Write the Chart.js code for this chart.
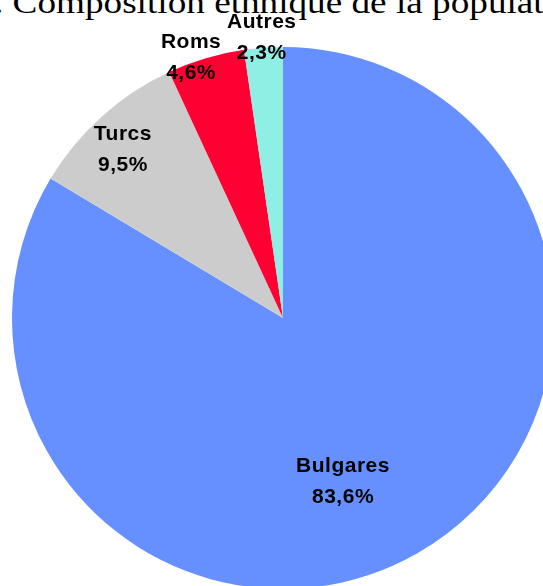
<!DOCTYPE html>
<html>
<head>
<meta charset="utf-8">
<script src="https://cdn.jsdelivr.net/npm/chart.js@4"></script>
<style>
  html, body { margin: 0; padding: 0; background: #fff; overflow: hidden; width: 543px; height: 586px; }
  #title {
    position: absolute; left: -6px; top: -13px; white-space: nowrap;
    font-family: "Liberation Serif", serif; font-size: 31px; line-height: 1; color: #000;
    transform: scaleX(1.2); transform-origin: 0 0;
  }
  #wrap { position: absolute; left: 12px; top: 0; width: 542px; height: 589px; }
</style>
</head>
<body>
<div id="title">. Composition ethnique de la population</div>
<div id="wrap"><canvas id="chart"></canvas></div>
<script>
const labels = ['Bulgares', 'Turcs', 'Roms', 'Autres'];
const values = [83.6, 9.5, 4.6, 2.3];
const colors = ['#6690FF', '#CCCCCC', '#FF0033', '#8FEFE4'];

// where each label sits: fraction of radius, angle shift (deg) from slice middle
const labelPos = [
    { r: 0.644, a: 9.4 },
    { r: 0.856, a: -1.7 },
    { r: 1.018, a: -2.9 },
    { r: 1.036, a: -0.2 }
];

const sliceLabels = {
    id: 'sliceLabels',
    afterDatasetsDraw(chart) {
        const ctx = chart.ctx;
        const arcs = chart.getDatasetMeta(0).data;
        ctx.save();
        ctx.font = 'bold 21px "Liberation Sans", Arial, sans-serif';
        ctx.letterSpacing = '0.5px';
        ctx.fillStyle = '#000';
        ctx.textAlign = 'center';
        ctx.textBaseline = 'middle';
        arcs.forEach((arc, i) => {
            const p = arc.getProps(['x', 'y', 'startAngle', 'endAngle', 'outerRadius'], true);
            const mid = (p.startAngle + p.endAngle) / 2 + labelPos[i].a * Math.PI / 180;
            const r = p.outerRadius * labelPos[i].r;
            const x = p.x + r * Math.cos(mid);
            const y = p.y + r * Math.sin(mid);
            ctx.fillText(labels[i], x, y - 15.5);
            ctx.fillText(values[i].toFixed(1).replace('.', ',') + '%', x, y + 15.5);
        });
        ctx.restore();
    }
};

const c = document.getElementById('chart').getContext('2d');

const chart = new Chart(c, {
    type: 'pie',
    data: {
        labels,
        datasets: [{
            data: values,
            backgroundColor: colors,
            borderWidth: 0
        }]
    },
    options: {
        responsive: true,
        maintainAspectRatio: false,
        animation: false,
        layout: { padding: { top: 47 } },
        plugins: {
            legend: { display: false },
            tooltip: { enabled: false },
            title: { display: false }
        }
    },
    plugins: [sliceLabels]
});
</script>
</body>
</html>
